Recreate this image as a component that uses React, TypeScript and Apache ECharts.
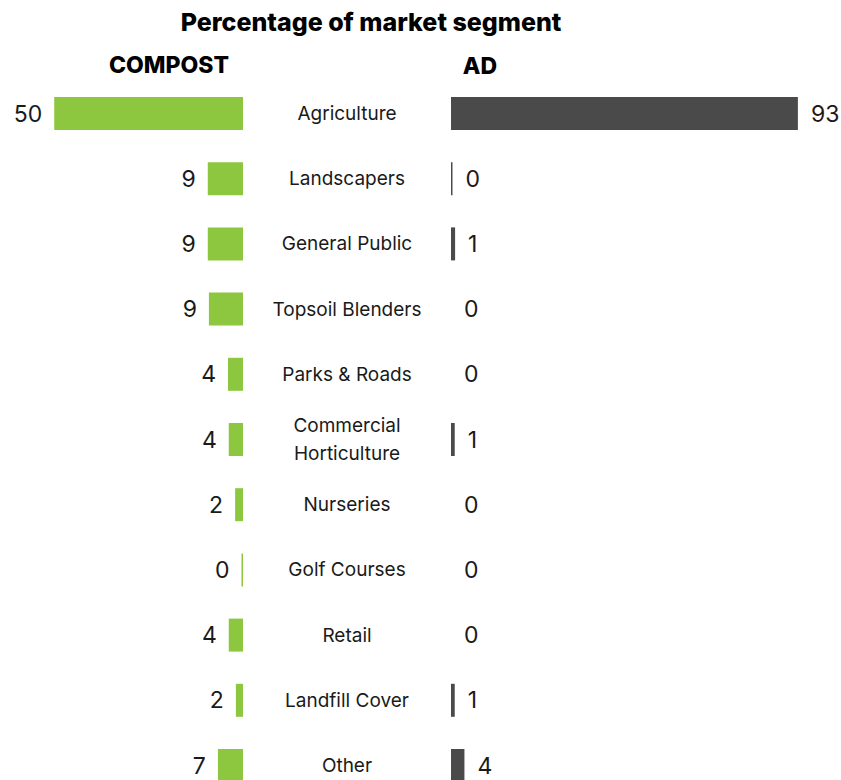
import React, { useEffect, useRef } from "react";
import * as echarts from "echarts";

const categories = [
  "Agriculture",
  "Landscapers",
  "General Public",
  "Topsoil Blenders",
  "Parks & Roads",
  "Commercial Horticulture",
  "Nurseries",
  "Golf Courses",
  "Retail",
  "Landfill Cover",
  "Other",
];
const compostValues = [50.4, 9.4, 9.4, 9.1, 4.0, 3.8, 2.1, 0.4, 3.8, 1.9, 6.7];
const adValues = [93.0, 0.4, 1.1, 0, 0, 1.0, 0, 0, 0, 1.0, 3.6];
const chartTitle = "Percentage of market segment";
const leftHeader = "COMPOST";
const rightHeader = "AD";

const GREEN = "#8DC63F";
const GREY = "#4A4A4B";
const TEXT = "#1a1a1a";
const FONT = "Inter, 'Noto Sans', sans-serif";

export default function App() {
  const ref = useRef<HTMLDivElement>(null);
  useEffect(() => {
    if (!ref.current) return;
    const chart = echarts.init(ref.current, undefined, { renderer: "svg" });
    const fmt = (p: any) => String(Math.round(p.value));
    chart.setOption({
      animation: false,
      backgroundColor: "#ffffff",
      textStyle: { fontFamily: FONT },
      graphic: [
        {
          type: "text",
          x: 371,
          y: 22,
          style: {
            text: chartTitle,
            fontFamily: FONT,
            fontWeight: 800,
            fontSize: 25,
            fill: "#000",
            textAlign: "center",
            textVerticalAlign: "middle",
          },
        },
        {
          type: "text",
          x: 169,
          y: 65,
          style: {
            text: leftHeader,
            fontFamily: FONT,
            fontWeight: 800,
            fontSize: 23,
            fill: "#000",
            textAlign: "center",
            textVerticalAlign: "middle",
          },
        },
        {
          type: "text",
          x: 480,
          y: 66,
          style: {
            text: rightHeader,
            fontFamily: FONT,
            fontWeight: 800,
            fontSize: 23,
            fill: "#000",
            textAlign: "center",
            textVerticalAlign: "middle",
          },
        },
      ],
      grid: [
        { left: 37, width: 206, top: 80.9, height: 717.2 },
        { left: 451, width: 373, top: 80.9, height: 717.2 },
      ],
      xAxis: [
        { gridIndex: 0, type: "value", min: 0, max: 55, inverse: true, show: false },
        { gridIndex: 1, type: "value", min: 0, max: 100, show: false },
      ],
      yAxis: [
        {
          gridIndex: 0,
          type: "category",
          data: categories,
          inverse: true,
          position: "right",
          axisLine: { show: false },
          axisTick: { show: false },
          splitLine: { show: false },
          axisLabel: {
            margin: 104,
            align: "center",
            fontSize: 19,
            lineHeight: 28,
            color: TEXT,
            fontFamily: FONT,
            formatter: (v: string) => v.replace("Commercial Horticulture", "Commercial\nHorticulture"),
          },
        },
        { gridIndex: 1, type: "category", data: categories, inverse: true, show: false },
      ],
      series: [
        {
          type: "bar",
          name: leftHeader,
          xAxisIndex: 0,
          yAxisIndex: 0,
          data: compostValues,
          barWidth: 33,
          itemStyle: { color: GREEN },
          label: {
            show: true,
            position: "left",
            distance: 12,
            formatter: fmt,
            fontSize: 23,
            color: TEXT,
            fontFamily: FONT,
          },
        },
        {
          type: "bar",
          name: rightHeader,
          xAxisIndex: 1,
          yAxisIndex: 1,
          data: adValues,
          barWidth: 33,
          itemStyle: { color: GREY },
          label: {
            show: true,
            position: "right",
            distance: 13,
            formatter: fmt,
            fontSize: 23,
            color: TEXT,
            fontFamily: FONT,
          },
        },
      ],
    });
    return () => chart.dispose();
  }, []);
  return (
    <div
      style={{
        position: "fixed",
        left: 0,
        top: 0,
        width: 841,
        height: 780,
        overflow: "hidden",
        background: "#fff",
      }}
    >
      <div ref={ref} style={{ width: 841, height: 800 }} />
    </div>
  );
}
